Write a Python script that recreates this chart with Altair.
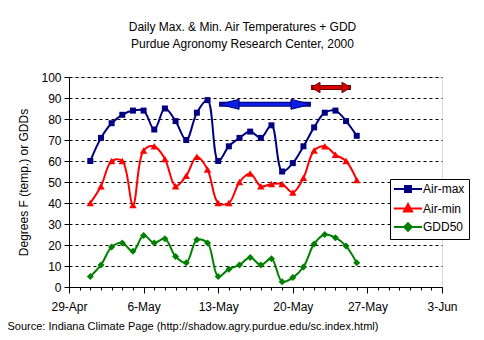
import altair as alt
import pandas as pd

FONT = "Liberation Sans"

dates = ["2000-05-01", "2000-05-02", "2000-05-03", "2000-05-04", "2000-05-05",
         "2000-05-06", "2000-05-07", "2000-05-08", "2000-05-09", "2000-05-10",
         "2000-05-11", "2000-05-12", "2000-05-13", "2000-05-14", "2000-05-15",
         "2000-05-16", "2000-05-17", "2000-05-18", "2000-05-19", "2000-05-20",
         "2000-05-21", "2000-05-22", "2000-05-23", "2000-05-24", "2000-05-25",
         "2000-05-26"]
air_max = [60, 71, 78, 82, 84, 84, 75, 85, 79, 70, 83, 89, 60, 67, 71, 74, 71, 77,
           55, 59, 67, 76, 83, 84, 79, 72]
air_min = [40, 48, 60, 60, 39, 65, 67, 61, 48, 53, 62, 56, 40, 40, 50, 54, 48, 49,
           49, 45, 52, 65, 67, 63, 60, 51]
gdd50 = [5, 10.5, 19, 21, 17, 24.5, 21, 23, 14.5, 11.5, 22.5, 21, 5, 8.5, 10.5, 14,
         10.5, 13.5, 2.5, 4.5, 9.5, 20.5, 25, 23.5, 19.5, 11.5]

series_names = ["Air-max", "Air-min", "GDD50"]
series_colors = ["#000080", "#FF0000", "#008000"]
marker_shapes = ["square", "triangle-up", "diamond"]
marker_sizes = [36, 56, 49]
legend_shapes = [
    "M-4.7,0H4.7M-1,-1H1V1H-1Z",
    "M-4.7,0H4.7M0,-1.5L1.35,1H-1.35Z",
    "M-4.7,0H4.7M0,-1.25L1.25,0L0,1.25L-1.25,0Z",
]

y_ticks = list(range(0, 101, 10))
x_first, x_last = "2000-04-29", "2000-06-03"

arrow_start = ["2000-05-13T02:00:00Z", "2000-05-21T17:00:00Z"]
arrow_end = ["2000-05-21T17:00:00Z", "2000-05-25T11:00:00Z"]
arrow_level = [87, 95]
arrow_fill = ["#0A1EE6", "#D80000"]
arrow_edge = ["#000070", "#6A0000"]
arrow_head_half = [10, 4.5]
arrow_head_ratio = [0.5, 1.15]
arrow_bar = [3, 3]

title_lines = ["Daily Max. & Min. Air Temperatures + GDD",
               "Purdue Agronomy Research Center, 2000"]
y_title = "Degrees F (temp.) or GDDs"
source_text = "Source: Indiana Climate Page (http://shadow.agry.purdue.edu/sc.index.html)"

df = pd.DataFrame({
    "date": dates * 3,
    "value": air_max + air_min + gdd50,
    "series": [s for s in series_names for _ in dates],
})


def dt(ts):
    ts = pd.Timestamp(ts)
    return alt.DateTime(year=ts.year, month=ts.month, date=ts.day, utc=True)


tick_days = pd.date_range(x_first, x_last, freq="D")
xscale = alt.Scale(type="utc", domain=[dt(x_first), dt(x_last)])
yscale = alt.Scale(domain=[0, 100], nice=False, zero=True)

weekly = "utcday(datum.value) == 6"
xaxis = alt.Axis(
    values=[dt(d) for d in tick_days],
    labelExpr=f"{weekly} ? utcFormat(datum.value, '%-d-%b') : ''",
    tickSize={"condition": {"test": weekly, "value": 6}, "value": 3},
    labelOverlap=False, labelFlush=False, grid=False,
    domainColor="black", tickColor="black", labelColor="black",
    labelFont=FONT, labelFontSize=12, labelPadding=8,
    title=source_text, titleAnchor="start", titleAlign="left",
    titleX=-62, titleY=42, titleBaseline="alphabetic",
    titleFont=FONT, titleFontSize=11, titleFontWeight="normal", titleColor="black",
)
yaxis = alt.Axis(
    values=y_ticks, grid=True, gridColor="black", gridDash=[3, 3], gridWidth=1,
    tickSize=5, tickColor="black", domainColor="black", labelColor="black",
    labelFont=FONT, labelFontSize=12, labelPadding=3,
    title=y_title, titleFont=FONT, titleFontSize=12, titleFontWeight="normal",
    titleColor="black", titlePadding=10,
)

X = alt.X("date:T", scale=xscale, axis=xaxis)
Y = alt.Y("value:Q", scale=yscale, axis=yaxis)

base = alt.Chart(df).encode(x=X, y=Y)

cscale = alt.Scale(domain=series_names, range=series_colors)
lines = base.mark_line(interpolate="catmull-rom", strokeWidth=2).encode(
    color=alt.Color("series:N", scale=cscale, legend=None)
)

layers = [lines]
for name, col, shp, sz in zip(series_names, series_colors, marker_shapes, marker_sizes):
    layers.append(
        base.transform_filter(alt.datum.series == name).mark_point(
            filled=True, shape=shp, size=sz, color=col, opacity=1)
    )

leg = alt.Legend(
    title=None, orient="none", legendX=321, legendY=102,
    strokeColor="black", fillColor="white", padding=4, cornerRadius=0,
    labelFont=FONT, labelFontSize=12, labelColor="black",
    symbolSize=36, symbolOffset=8, labelOffset=9, rowPadding=3.5,
    symbolStrokeWidth=2, symbolOpacity=1,
)
legend_layer = base.mark_point(size=30, opacity=0, filled=True).encode(
    fill=alt.Fill("series:N", scale=cscale, legend=leg),
    stroke=alt.Stroke("series:N", scale=cscale, legend=leg),
    shape=alt.Shape("series:N", scale=alt.Scale(domain=series_names, range=legend_shapes),
                    legend=leg),
)
layers.append(legend_layer)

arrows = pd.DataFrame({"start": arrow_start, "end": arrow_end, "level": arrow_level})
for i in range(len(arrow_start)):
    a = alt.Chart(arrows).transform_filter(alt.datum.level == arrow_level[i])
    h = arrow_head_half[i]
    r = arrow_head_ratio[i]
    XS = alt.X("start:T", scale=xscale, axis=xaxis)
    XE = alt.X("end:T", scale=xscale, axis=xaxis)
    YL = alt.Y("level:Q", scale=yscale, axis=yaxis)
    layers.append(a.mark_rule(strokeWidth=arrow_bar[i] + 2, color=arrow_edge[i],
                              strokeCap="butt").encode(x=XS, x2="end:T", y=YL))
    layers.append(a.mark_rule(strokeWidth=arrow_bar[i], color=arrow_fill[i],
                              strokeCap="butt").encode(x=XS, x2="end:T", y=YL))
    layers.append(a.mark_point(
        shape=f"M-1,0L1,-{r}L1,{r}Z", size=(2 * h) ** 2, filled=True,
        fill=arrow_fill[i], stroke=arrow_edge[i], strokeWidth=1, opacity=1, xOffset=h,
    ).encode(x=XS, y=YL))
    layers.append(a.mark_point(
        shape=f"M1,0L-1,-{r}L-1,{r}Z", size=(2 * h) ** 2, filled=True,
        fill=arrow_fill[i], stroke=arrow_edge[i], strokeWidth=1, opacity=1, xOffset=-h,
    ).encode(x=XE, y=YL))

chart = alt.layer(*layers).properties(
    width=373, height=210,
    title=alt.TitleParams(text=title_lines, font=FONT, fontSize=12, fontWeight="normal",
                          lineHeight=17, anchor="middle", frame="group", dx=-13,
                          offset=20, color="black"),
    autosize=alt.AutoSizeParams(type="none"),
    padding={"left": 69, "top": 77, "right": 42, "bottom": 53},
).resolve_scale(
    fill="independent", stroke="independent", shape="independent"
).configure_view(stroke=None).configure(background="white")

chart.save("out.html", embed_options={"renderer": "svg", "actions": False})
